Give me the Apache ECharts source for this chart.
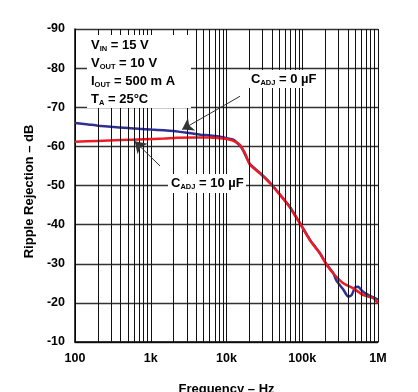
<!DOCTYPE html>
<html>
<head>
<meta charset="utf-8">
<script src="https://cdn.jsdelivr.net/npm/echarts@6/dist/echarts.min.js"></script>
<style>
html,body{margin:0;padding:0;background:#fff;}
#chart{width:418px;height:392px;}
</style>
</head>
<body>
<div id="chart"></div>
<script>
// ---- data ----
const freqBlue = [100, 150, 200, 300, 500, 700, 1000, 1500, 2000, 3000, 4500, 6000, 8000, 10000, 12300, 14000, 16000, 18000, 20400, 27700, 37500, 50800, 68900, 84500, 93300, 126500, 171500, 210000, 257000, 284000, 348000, 405000, 449000, 497000, 550000, 608000, 673000, 784000, 912000, 1000000];
const valBlue  = [-66.0, -65.6, -65.3, -65.0, -64.7, -64.5, -64.3, -64.1, -63.9, -63.5, -63.0, -62.8, -62.5, -62.1, -61.7, -60.8, -59.5, -57.5, -55.5, -53.2, -50.7, -47.7, -44.5, -41.7, -40.4, -36.1, -32.7, -29.8, -27.6, -25.6, -23.4, -21.6, -22.0, -23.9, -24.1, -23.2, -22.5, -21.8, -21.2, -20.8];

const freqRed = [100, 200, 400, 800, 1500, 2200, 4000, 6000, 8000, 10000, 12300, 15000, 17500, 20400, 27700, 37500, 50800, 68900, 84500, 93300, 126500, 171500, 210000, 257000, 348000, 472000, 640000, 867000, 1000000];
const valRed  = [-61.2, -61.4, -61.6, -61.8, -62.0, -62.2, -62.3, -62.3, -62.1, -61.9, -61.4, -60.4, -58.3, -55.3, -53.1, -50.6, -47.6, -44.4, -41.6, -40.3, -36.0, -32.6, -29.7, -27.5, -25.0, -23.7, -22.0, -21.2, -19.9];

const xTickLabels = {100: '100', 1000: '1k', 10000: '10k', 100000: '100k', 1000000: '1M'};
const minorGridFreqs = [];
[100, 1000, 10000, 100000].forEach(d => { for (let k = 2; k <= 9; k++) minorGridFreqs.push(d * k); });

// arrow annotations: [tail, tip] in data coordinates
const arrowBlue = [[15070, -72.8], [2590, -64.3]];
const arrowRed  = [[1325, -55.0], [615, -61.3]];

const FONT = '"Liberation Sans", Arial, sans-serif';

const chart = echarts.init(document.getElementById('chart'), null, {renderer: 'canvas'});

const main = {fontFamily: FONT, fontSize: 13, fontWeight: 'bold', color: '#000', lineHeight: 16};
const sub  = {fontFamily: FONT, fontSize: 7.5, fontWeight: 'bold', color: '#000', lineHeight: 10, verticalAlign: 'bottom'};

function label(x, y, text) {
  return {
    type: 'text', x: x, y: y, z: 110,
    style: {text: text, rich: {m: main, s: sub}, verticalAlign: 'middle', align: 'left'}
  };
}

const option = {
  animation: false,
  backgroundColor: '#fff',
  grid: {left: 75, top: 29, width: 303, height: 313, show: false, outerBoundsMode: 'none', containLabel: false},
  xAxis: {
    type: 'log', logBase: 10, min: 100, max: 1000000,
    name: 'Frequency – Hz', nameLocation: 'middle', nameGap: 41,
    nameTextStyle: {fontFamily: FONT, fontSize: 13, fontWeight: 'bold', color: '#000'},
    axisLine: {show: true, lineStyle: {color: '#000', width: 1.5}},
    axisTick: {show: false},
    axisLabel: {margin: 10, fontFamily: FONT, fontSize: 12.5, fontWeight: 'bold', color: '#000',
      formatter: v => xTickLabels[Math.round(v)] || ''},
    splitLine: {show: true, lineStyle: {color: '#111', width: 1}},
    minorTick: {show: false}, minorSplitLine: {show: false}
  },
  yAxis: {
    type: 'value', min: -90, max: -10, interval: 10, inverse: true,
    name: 'Ripple Rejection – dB', nameLocation: 'middle', nameGap: 31,
    nameTextStyle: {fontFamily: FONT, fontSize: 13, fontWeight: 'bold', color: '#000', padding: [0, 12, 0, 0]},
    axisLine: {show: true, lineStyle: {color: '#000', width: 1.5}},
    axisTick: {show: false},
    axisLabel: {margin: 10, fontFamily: FONT, fontSize: 12.5, fontWeight: 'bold', color: '#000'},
    splitLine: {show: true, lineStyle: {color: '#333', width: 1.3}}
  },
  graphic: [
    {type: 'rect', z: 100, shape: {x: 87, y: 35, width: 104, height: 73}, style: {fill: '#fff'}},
    label(91, 45, '{m|V}{s|IN}{m| = 15 V}'),
    label(91, 63, '{m|V}{s|OUT}{m| = 10 V}'),
    label(91, 81, '{m|I}{s|OUT}{m| = 500 m A}'),
    label(91, 99, '{m|T}{s|A}{m| = 25°C}'),
    {type: 'rect', z: 100, shape: {x: 248, y: 70, width: 72, height: 18}, style: {fill: '#fff'}},
    label(251, 79, '{m|C}{s|ADJ}{m| = 0 µF}'),
    {type: 'rect', z: 100, shape: {x: 168, y: 174, width: 78, height: 19}, style: {fill: '#fff'}},
    label(171, 183, '{m|C}{s|ADJ}{m| = 10 µF}')
  ],
  series: [
    {
      type: 'line', name: 'grid', data: [], z: 1, silent: true,
      markLine: {
        silent: true, symbol: 'none', animation: false,
        label: {show: false},
        lineStyle: {color: '#111', width: 1, type: 'solid'},
        data: minorGridFreqs.map(f => ({xAxis: f}))
      }
    },
    {
      type: 'line', name: 'CADJ = 0 µF', z: 3, showSymbol: false, symbol: 'none', smooth: 0.2,
      lineStyle: {color: '#2e3192', width: 2.5},
      data: freqBlue.map((f, i) => [f, valBlue[i]])
    },
    {
      type: 'line', name: 'CADJ = 10 µF', z: 4, showSymbol: false, symbol: 'none', smooth: 0.2,
      lineStyle: {color: '#ed1c24', width: 2.5},
      data: freqRed.map((f, i) => [f, valRed[i]])
    },
    {
      type: 'line', name: 'arrows', data: [], z: 120, silent: true,
      markLine: {
        silent: true, animation: false,
        symbol: ['none', 'arrow'], symbolSize: 11,
        label: {show: false},
        lineStyle: {color: '#333', width: 1, type: 'solid'},
        itemStyle: {color: '#000'},
        data: [
          [{coord: arrowBlue[0]}, {coord: arrowBlue[1]}],
          [{coord: arrowRed[0]}, {coord: arrowRed[1]}]
        ]
      }
    }
  ]
};
chart.setOption(option);
</script>
</body>
</html>
